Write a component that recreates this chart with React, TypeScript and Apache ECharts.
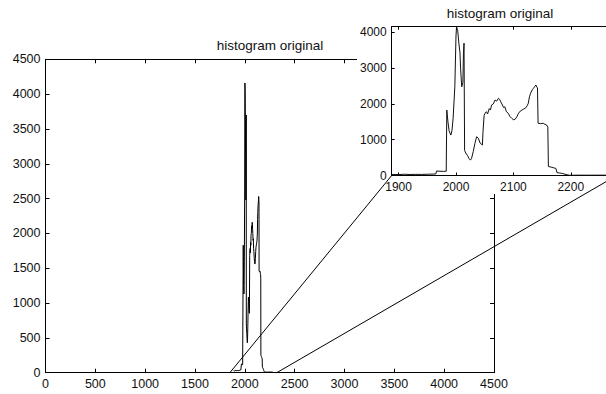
import React, { useEffect, useRef } from "react";
import * as echarts from "echarts";

// histogram samples: bin value (intensity) and count
const binX = [
  1888, 1900, 1910, 1920, 1930, 1940, 1950, 1960, 1965, 1966, 1972, 1978, 1983, 1984,
  1986, 1988, 1991, 1993, 1995, 1998, 2000, 2001, 2003, 2005, 2007, 2008, 2010, 2012,
  2013, 2014, 2015, 2017, 2020, 2023, 2025, 2027, 2030, 2033, 2036, 2039, 2042, 2046,
  2047, 2049, 2051, 2053, 2055, 2058, 2060, 2062, 2065, 2068, 2071, 2074, 2076, 2078,
  2080, 2083, 2085, 2088, 2091, 2094, 2097, 2100, 2103, 2106, 2109, 2112, 2115, 2118,
  2121, 2124, 2126, 2128, 2130, 2133, 2135, 2137, 2139, 2141, 2142, 2143, 2147, 2152,
  2155, 2158, 2160, 2161, 2164, 2167, 2170, 2174, 2176, 2180, 2184, 2188, 2190, 2194,
  2198, 2205, 2215, 2230, 2250, 2280,
];
const binCount = [
  30, 25, 35, 28, 32, 30, 35, 40, 45, 125, 120, 115, 120, 1830,
  1500, 1250, 1130, 1250, 1600, 2480, 3900, 4160, 4050, 3700, 3425, 3000, 2480, 2600,
  3400, 3700, 700, 630, 560, 470, 430, 470, 665, 900, 1085, 1040, 909, 853,
  1200, 1680, 1750, 1784, 1720, 1870, 1830, 1970, 2000, 2110, 2080, 2160, 2130, 2060,
  2000, 1900, 1923, 1780, 1740, 1650, 1600, 1560, 1570, 1640, 1740, 1800, 1830, 1860,
  1880, 1950, 2020, 2200, 2300, 2400, 2440, 2480, 2530, 2470, 2450, 1460, 1450, 1460,
  1430, 1410, 1350, 250, 240, 230, 215, 200, 80, 70, 62, 45, 34, 20,
  5, 8, 10, 8, 10, 8,
];

const mainTitle = "histogram original";
const insetTitle = "histogram original";
const mainRange = [0, 4500];
const mainStep = 500;
const insetXRange = [1888, 2280];
const insetYMax = 4160;
const insetXTicks = [1900, 2000, 2100, 2200];
const insetYTicks = [0, 1000, 2000, 3000, 4000];
const zoomFrom = [1850, 2320]; // main-chart x values where the zoom lines start

const FONT = "'Liberation Sans', Arial, Helvetica, sans-serif";
const BLACK = "#000";

type AxisCfg = {
  dim: "x" | "y";
  grid: number;
  pos: string;
  min: number;
  max: number;
  interval?: number;
  splitNumber?: number;
  ticks?: number[];
  labels: boolean;
  fontSize: number;
  z: number;
  tickLen: number;
};

// one visible axis (line + labels) and one companion axis shifted inward that draws inward ticks
function makeAxes(c: AxisCfg) {
  const base: any = {
    type: "value",
    gridIndex: c.grid,
    position: c.pos,
    min: c.min,
    max: c.max,
    splitLine: { show: false },
    z: c.z,
  };
  if (c.interval) base.interval = c.interval;
  if (c.splitNumber) base.splitNumber = c.splitNumber;
  const lineAxis = {
    ...base,
    axisLine: { show: true, onZero: false, lineStyle: { color: BLACK, width: 1 } },
    axisTick: { show: false },
    axisLabel: {
      show: c.labels,
      margin: 5,
      color: "#111",
      fontFamily: FONT,
      fontSize: c.fontSize,
      customValues: c.ticks,
      formatter: (v: number) =>
        c.ticks ? (c.ticks.indexOf(v) >= 0 ? String(v) : "") : String(v),
    },
  };
  const tickAxis = {
    ...base,
    offset: -c.tickLen,
    axisLine: { show: false, onZero: false },
    axisTick: {
      show: true,
      inside: false,
      length: c.tickLen,
      customValues: c.ticks,
      lineStyle: { color: BLACK, width: 1 },
    },
    axisLabel: { show: false },
  };
  return [lineAxis, tickAxis];
}

export default function App() {
  const ref = useRef<HTMLDivElement>(null);
  useEffect(() => {
    if (!ref.current) return;
    const chart = echarts.init(ref.current, null, { renderer: "svg" });
    const data = binX.map((x, i) => [x, binCount[i]]);

    const mainCommon = { grid: 0, min: mainRange[0], max: mainRange[1], interval: mainStep, fontSize: 12.5, z: 1, tickLen: 4 };
    const xAxes = [
      ...makeAxes({ dim: "x", pos: "bottom", labels: true, ...mainCommon }),
      ...makeAxes({ dim: "x", pos: "top", labels: false, ...mainCommon }),
    ];
    const yAxes = [
      ...makeAxes({ dim: "y", pos: "left", labels: true, ...mainCommon }),
      ...makeAxes({ dim: "y", pos: "right", labels: false, ...mainCommon }),
    ];
    const insetXCommon = {
      grid: 1, min: insetXRange[0], max: insetXRange[1], splitNumber: 4, ticks: insetXTicks, fontSize: 12, z: 11, tickLen: 3,
    };
    const insetXStart = xAxes.length;
    xAxes.push(
      ...makeAxes({ dim: "x", pos: "bottom", labels: true, ...insetXCommon }),
      ...makeAxes({ dim: "x", pos: "top", labels: false, ...insetXCommon }),
    );
    const insetYStart = yAxes.length;
    yAxes.push(
      ...makeAxes({
        dim: "y", pos: "left", labels: true, grid: 1, min: 0, max: insetYMax, ticks: insetYTicks, fontSize: 12, z: 11, tickLen: 3,
      }),
    );

    const option: any = {
      animation: false,
      backgroundColor: "#fff",
      grid: [
        { left: 45.5, top: 59.3, width: 448.5, height: 313.4, containLabel: false, outerBoundsMode: "none" },
        { left: 391.7, top: 26.7, width: 225, height: 148.8, containLabel: false, outerBoundsMode: "none" },
      ],
      xAxis: xAxes,
      yAxis: yAxes,
      series: [
        {
          type: "line",
          xAxisIndex: 0,
          yAxisIndex: 0,
          data,
          showSymbol: false,
          symbol: "none",
          lineStyle: { color: BLACK, width: 1 },
          z: 2,
        },
        {
          type: "line",
          xAxisIndex: insetXStart,
          yAxisIndex: insetYStart,
          data,
          showSymbol: false,
          symbol: "none",
          clip: true,
          lineStyle: { color: "#111", width: 1 },
          z: 12,
        },
      ],
    };
    chart.setOption(option);

    const a1 = chart.convertToPixel({ gridIndex: 0 }, [zoomFrom[0], 0]) as number[];
    const b1 = chart.convertToPixel({ gridIndex: 1 }, [insetXRange[0], 0]) as number[];
    const a2 = chart.convertToPixel({ gridIndex: 0 }, [zoomFrom[1], 0]) as number[];
    const b2 = chart.convertToPixel({ gridIndex: 1 }, [insetXRange[1], 0]) as number[];
    const titleFont = `13.5px ${FONT}`;
    chart.setOption({
      graphic: [
        {
          type: "text",
          x: 270,
          y: 45,
          z: 3,
          style: { text: mainTitle, font: titleFont, fill: "#111", textAlign: "center", textVerticalAlign: "middle" },
        },
        {
          type: "rect",
          z: 10,
          shape: { x: 357, y: 0, width: 249, height: 194 },
          style: { fill: "#fff" },
        },
        {
          type: "text",
          x: 500,
          y: 13.5,
          z: 12,
          style: { text: insetTitle, font: titleFont, fill: "#111", textAlign: "center", textVerticalAlign: "middle" },
        },
        {
          type: "line",
          z: 20,
          shape: { x1: a1[0], y1: a1[1], x2: b1[0], y2: b1[1] },
          style: { stroke: BLACK, lineWidth: 1 },
        },
        {
          type: "line",
          z: 20,
          shape: { x1: a2[0], y1: a2[1], x2: b2[0], y2: b2[1] },
          style: { stroke: BLACK, lineWidth: 1 },
        },
      ],
    });
    return () => chart.dispose();
  }, []);
  return (
    <div
      ref={ref}
      style={{ position: "fixed", left: 0, top: 0, width: 606, height: 394, background: "#fff" }}
    />
  );
}
